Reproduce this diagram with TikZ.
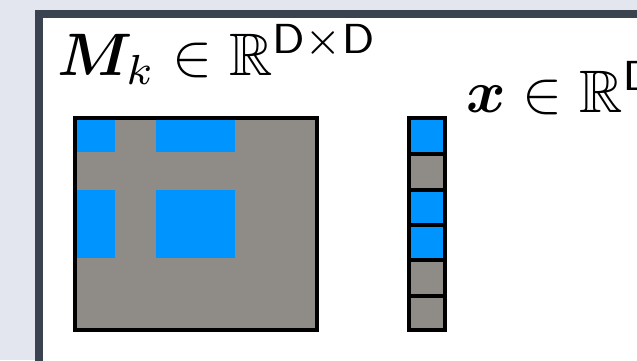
\documentclass[tikz,border=0pt]{standalone}
\usepackage{amsmath,amssymb,bm}
\definecolor{pagebg}{RGB}{227,230,238}
\definecolor{framedark}{RGB}{59,66,80}
\definecolor{cellgray}{RGB}{143,140,135}
\definecolor{cellblue}{RGB}{0,148,255}
\tikzset{
  px/.style={x=1pt,y=-1pt},
  label text/.style={anchor=base west,inner sep=0pt,scale=6.0,font=\fontsize{10}{12}\selectfont},
  edge line/.style={draw=black,line width=4pt},
}
\begin{document}
\begin{tikzpicture}[px]
  \useasboundingbox (0,0) rectangle (637,360);
  \clip (0,0) rectangle (637,360);
  % page and panel frame
  \fill[pagebg] (0,0) rectangle (637,360);
  \fill[framedark] (35,10) rectangle (700,420);
  \fill[white] (42.7,18.3) rectangle (700,420);

  % labels
  \node[label text] (mlabel) at (56.5,75) {$\bm{M}_k \in \mathbb{R}^{\mathsf{D}\times\mathsf{D}}$};
  \node[label text] (xlabel) at (465.5,112) {$\bm{x} \in \mathbb{R}^{\mathsf{D}}$};

  % matrix M_k
  \fill[cellgray] (74.7,118) rectangle (317,330);
  \fill[cellblue] (76.7,120) rectangle (115.3,152.3);
  \fill[cellblue] (155.7,120) rectangle (235,152.3);
  \fill[cellblue] (76.7,190) rectangle (115.3,258.3);
  \fill[cellblue] (155.7,190) rectangle (235,258.3);
  \draw[edge line] (74.7,118) rectangle (317,330);

  % vector x
  \foreach \top/\bot/\c in {118/154/cellblue, 154/190.3/cellgray, 190.3/225.3/cellblue,
                            225.3/260/cellblue, 260/296/cellgray, 296/330/cellgray}{
    \filldraw[fill=\c,edge line] (409.3,\top) rectangle (445.3,\bot);
  }
\end{tikzpicture}
\end{document}
